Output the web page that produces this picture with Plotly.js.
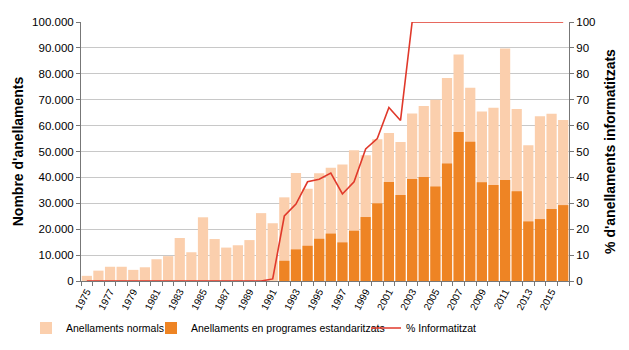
<!DOCTYPE html>
<html><head><meta charset="utf-8">
<script src="https://cdn.plot.ly/plotly-3.0.1.min.js"></script>
<style>body{margin:0;background:#fff}#c{width:629px;height:350px}</style>
</head><body><div id="c"></div>
<script>
const years = [];
for (let y = 1975; y <= 2016; y++) years.push(y);
const normals = [2000,4000,5500,5500,4300,5300,8400,9600,16600,11100,24600,16200,12900,13800,15800,26200,22300,32300,41700,35600,41600,43700,45000,50500,48600,54700,57100,53700,64700,67600,70000,78400,87500,74600,65400,66900,89800,66400,52400,63600,64600,62200];
const estandard = [null,null,null,null,null,null,null,null,null,null,null,null,null,null,null,null,null,7800,12200,13600,16300,18300,14900,19400,24700,30000,38200,33200,39400,40200,36500,45400,57500,53800,38100,37100,39000,34700,23000,23900,27800,29300];
const pct = [0,0,0,0,0,0,0,0,0,0,0,0,0,0,0,0,0.8,25.1,29.7,38.3,39.3,41.7,33.6,38.3,51,55,67,62,100,100,100,100,100,100,100,100,100,100,100,100,100,100];
const tickYears = years.filter(y => y % 2 === 1);

const traces = [
  {type:'bar', x:years, y:normals, name:'Anellaments normals', marker:{color:'#FBCFAD'}, legend:'legend'},
  {type:'bar', x:years, y:estandard, name:'Anellaments en programes estandaritzats', marker:{color:'#EE8424'}, legend:'legend2'},
  {type:'scatter', mode:'lines', x:years, y:pct, yaxis:'y2', name:'% Informatitzat', line:{color:'#E0392B', width:1.6}, legend:'legend3'}
];
const legFont = {family:'Liberation Sans, Arial, sans-serif', size:10.5, color:'#000'};
function leg(xpx){
  return {orientation:'h', xref:'container', yref:'container', x:xpx/629, xanchor:'left', y:(350-328)/350, yanchor:'middle',
    font:legFont, itemwidth:30, bgcolor:'rgba(0,0,0,0)', borderwidth:0};
}
const layout = {
  width:629, height:350,
  margin:{l:81, r:60, t:22, b:69, autoexpand:false},
  font:{family:'Liberation Sans, Arial, sans-serif', size:11.5, color:'#000'},
  separators:',.',
  barmode:'overlay', bargap:0.12,
  showlegend:true,
  legend:leg(26), legend2:leg(151), legend3:leg(366),
  xaxis:{range:[1974.5,2016.5], tickvals:tickYears, ticktext:tickYears.map(String), tickangle:-62, ticks:'', showgrid:false,
    showline:true, linecolor:'#777', linewidth:1,
    minor:{tick0:1974.5, dtick:1, ticks:'outside', ticklen:4, tickcolor:'#777', showgrid:false}, tickfont:{size:10}},
  yaxis:{range:[0,100000], dtick:10000, tickformat:',.0f', showgrid:true, gridcolor:'#C8C8C8', gridwidth:1,
    showline:true, linecolor:'#777', ticks:'outside', ticklen:4, tickcolor:'#777', zeroline:false,
    title:{text:"Nombre d'anellaments", font:{size:14, weight:'bold'}, standoff:5}},
  yaxis2:{range:[0,100], dtick:10, overlaying:'y', side:'right', showgrid:false, showline:true, linecolor:'#777',
    ticks:'outside', ticklen:4, tickcolor:'#777', zeroline:false,
    title:{text:"% d'anellaments informatitzats", font:{size:14, weight:'bold'}, standoff:10}},
  plot_bgcolor:'#fff', paper_bgcolor:'#fff'
};
Plotly.newPlot('c', traces, layout, {displayModeBar:false, staticPlot:true});
</script></body></html>
